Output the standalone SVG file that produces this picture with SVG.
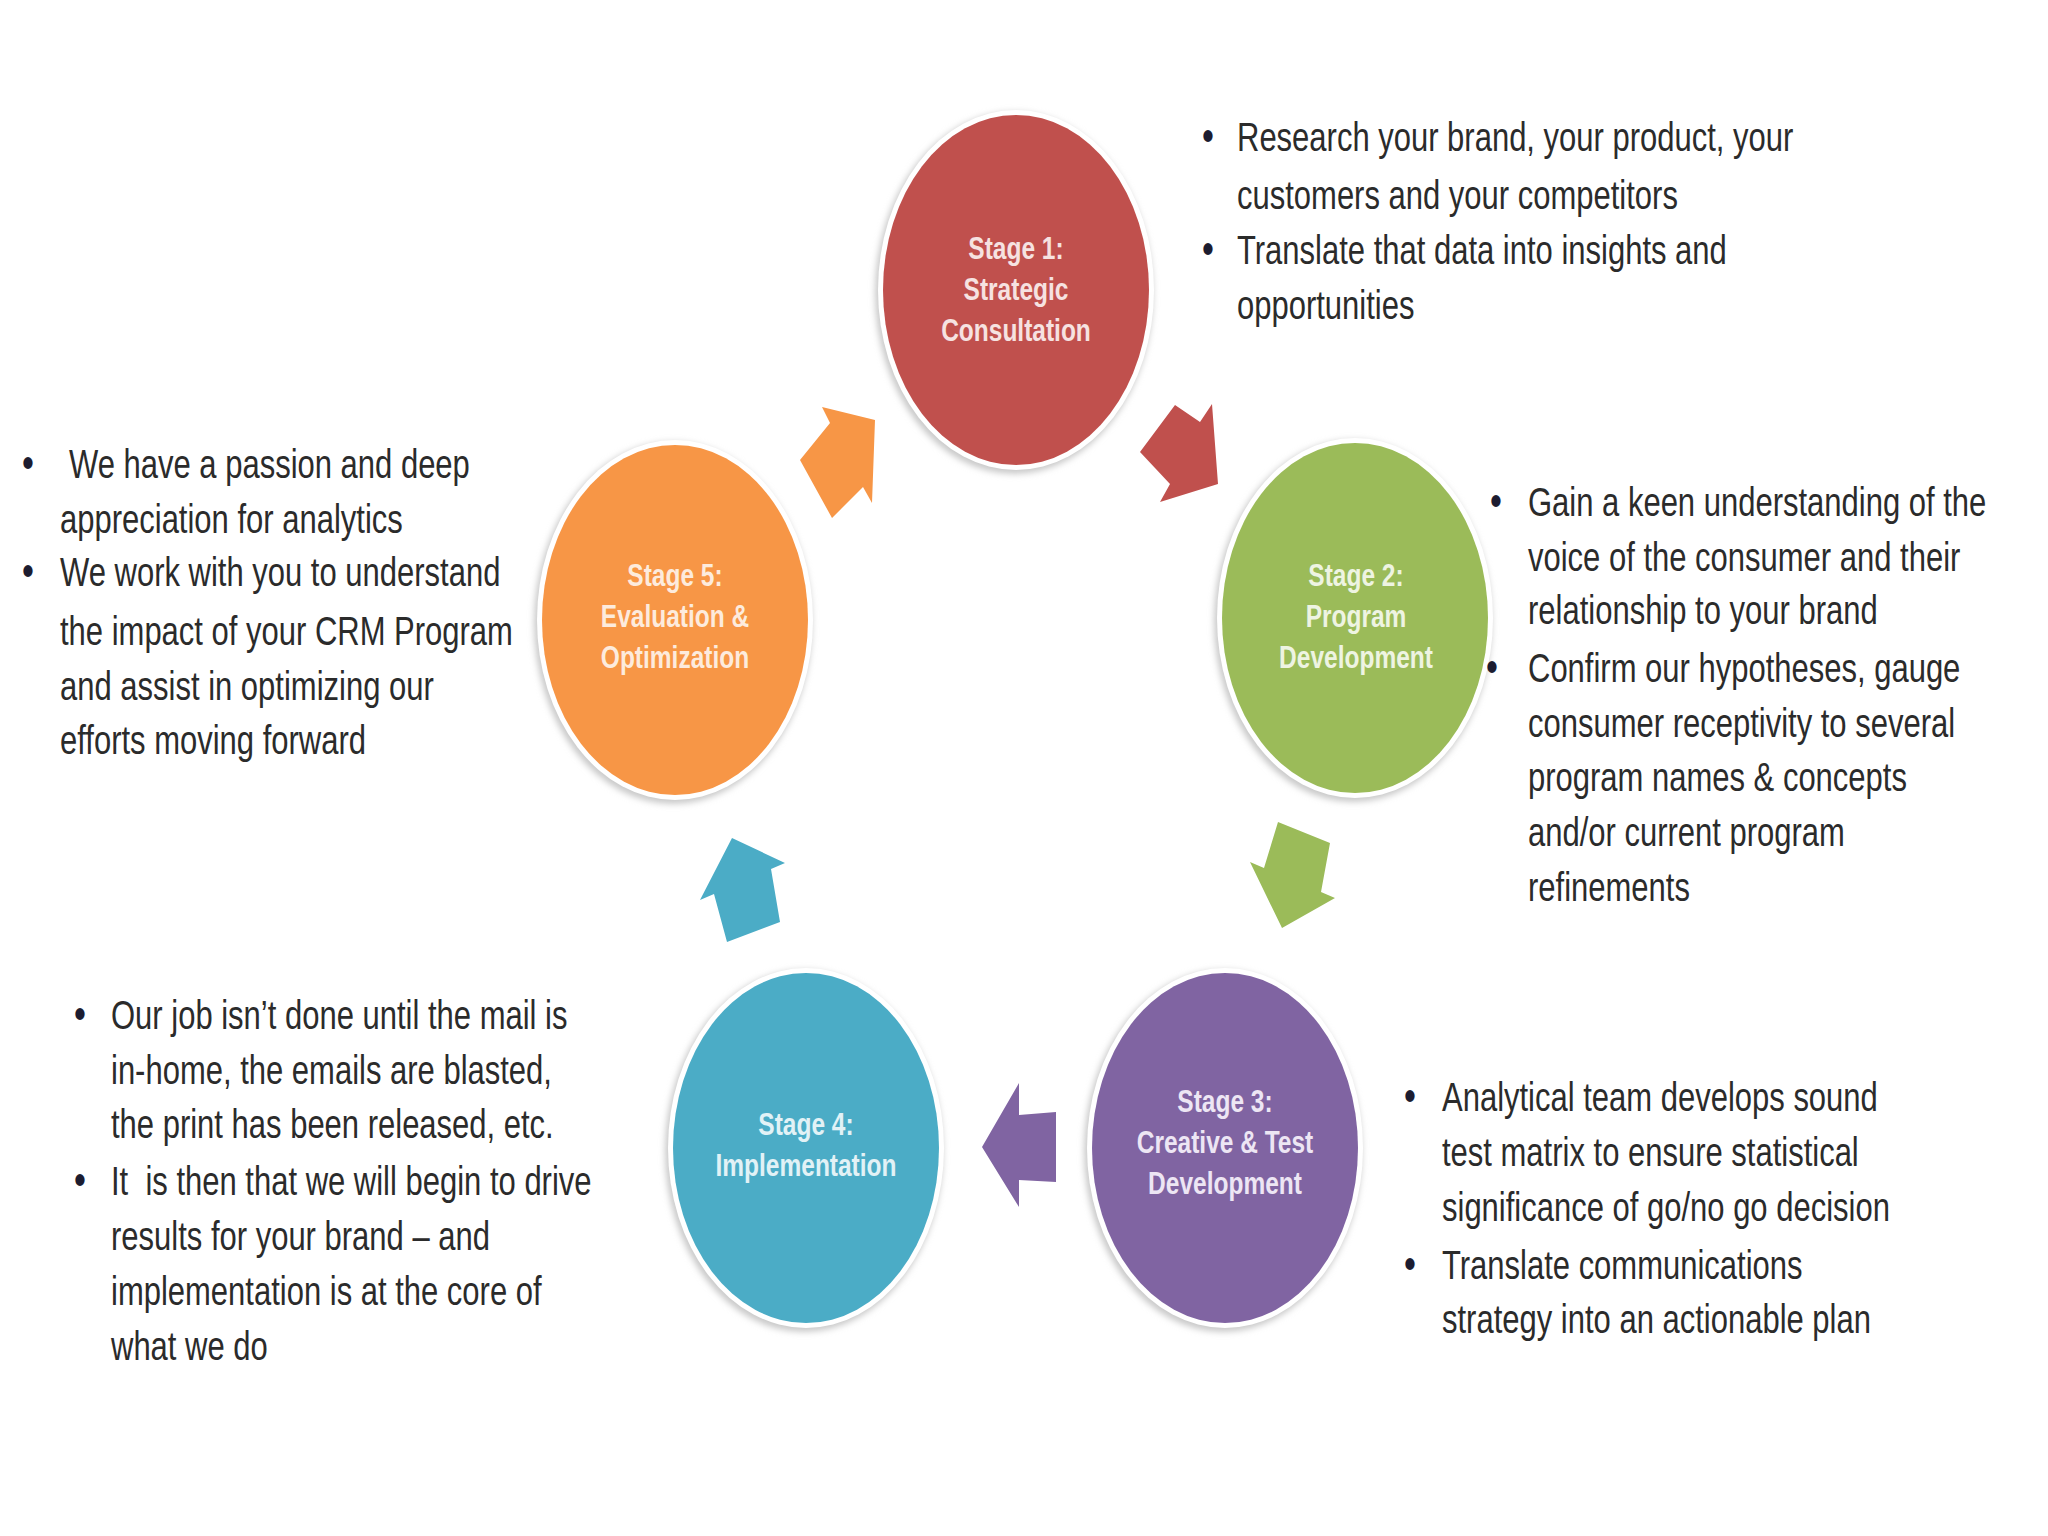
<svg xmlns="http://www.w3.org/2000/svg" width="2048" height="1536" viewBox="0 0 2048 1536">
<defs>
<style>
.body{font-family:"Liberation Sans",Arial,sans-serif;font-size:31px;fill:#2b2b2b}
.bul{font-family:"Liberation Sans",Arial,sans-serif;font-size:34px;fill:#1c1c30}
.lbl{font-family:"Liberation Sans",Arial,sans-serif;font-size:24.5px;font-weight:bold;text-anchor:middle}
.ring{fill:#ffffff}
.shadow{fill:#c9c9c9;filter:url(#blur)}
</style>
<filter id="blur" x="-20%" y="-20%" width="140%" height="140%"><feGaussianBlur stdDeviation="3"/></filter>
</defs>
<rect x="0" y="0" width="2048" height="1536" fill="#ffffff"/>

<g id="connectors">
<polygon points="1140,452 1175,405 1200,422 1212,404 1218,484 1160,502 1170,484" fill="#C0504D"/>
<polygon points="1278,822 1330,843 1321,892 1335,898 1282,928 1250,862 1264,868" fill="#9BBB59"/>
<polygon points="982,1147 1019,1083 1019,1115 1056,1112 1056,1182 1019,1180 1019,1207" fill="#8064A2"/>
<polygon points="732,838 785,863 771,869 780,922 727,942 714,894 700,900" fill="#4BACC6"/>
<polygon points="822,407 875,420 872,503 863,487 832,518 800,460 830,423" fill="#F79646"/>
</g>

<g id="stage1">
<ellipse class="shadow" cx="1014" cy="293" rx="139" ry="181"/>
<ellipse class="ring" cx="1016" cy="290" rx="138" ry="180"/>
<ellipse cx="1016" cy="290" rx="133" ry="175" fill="#C0504D"/>
<text class="lbl" fill="#F6E2E1" transform="translate(1016 259) scale(1 1.3)"><tspan x="0" y="0">Stage 1:</tspan><tspan x="0" y="31.5">Strategic</tspan><tspan x="0" y="63">Consultation</tspan></text>
</g>

<g id="stage2">
<ellipse class="shadow" cx="1353" cy="621" rx="139" ry="181"/>
<ellipse class="ring" cx="1355" cy="618" rx="138" ry="180"/>
<ellipse cx="1355" cy="618" rx="133" ry="175" fill="#9BBB59"/>
<text class="lbl" fill="#EEF4E2" transform="translate(1356 586) scale(1 1.3)"><tspan x="0" y="0">Stage 2:</tspan><tspan x="0" y="31.5">Program</tspan><tspan x="0" y="63">Development</tspan></text>
</g>

<g id="stage3">
<ellipse class="shadow" cx="1223" cy="1151" rx="139" ry="181"/>
<ellipse class="ring" cx="1225" cy="1148" rx="138" ry="180"/>
<ellipse cx="1225" cy="1148" rx="133" ry="175" fill="#8064A2"/>
<text class="lbl" fill="#EDE6F4" transform="translate(1225 1112) scale(1 1.3)"><tspan x="0" y="0">Stage 3:</tspan><tspan x="0" y="31.5">Creative &amp; Test</tspan><tspan x="0" y="63">Development</tspan></text>
</g>

<g id="stage4">
<ellipse class="shadow" cx="804" cy="1151" rx="139" ry="181"/>
<ellipse class="ring" cx="806" cy="1148" rx="138" ry="180"/>
<ellipse cx="806" cy="1148" rx="133" ry="175" fill="#4BACC6"/>
<text class="lbl" fill="#E2F2F6" transform="translate(806 1135) scale(1 1.3)"><tspan x="0" y="0">Stage 4:</tspan><tspan x="0" y="31.5">Implementation</tspan></text>
</g>

<g id="stage5">
<ellipse class="shadow" cx="673" cy="623" rx="139" ry="181"/>
<ellipse class="ring" cx="675" cy="620" rx="138" ry="180"/>
<ellipse cx="675" cy="620" rx="133" ry="175" fill="#F79646"/>
<text class="lbl" fill="#FDEBDD" transform="translate(675 586) scale(1 1.3)"><tspan x="0" y="0">Stage 5:</tspan><tspan x="0" y="31.5">Evaluation &amp;</tspan><tspan x="0" y="63">Optimization</tspan></text>
</g>

<g id="note-stage1">
<text class="bul" transform="translate(1237 151) scale(1 1.3)"><tspan x="-35" y="0">•</tspan><tspan x="-35" y="86.9">•</tspan></text>
<text class="body" transform="translate(1237 151) scale(1 1.3)"><tspan x="0" y="0">Research your brand, your product, your</tspan><tspan x="0" y="44.6">customers and your competitors</tspan><tspan x="0" y="86.9">Translate that data into insights and</tspan><tspan x="0" y="129.2">opportunities</tspan></text>
</g>

<g id="note-stage2">
<text class="bul" transform="translate(1528 516) scale(1 1.3)"><tspan x="-38" y="0">•</tspan><tspan x="-42" y="127.7">•</tspan></text>
<text class="body" transform="translate(1528 516) scale(1 1.3)"><tspan x="0" y="0">Gain a keen understanding of the</tspan><tspan x="0" y="42.3">voice of the consumer and their</tspan><tspan x="0" y="83.1">relationship to your brand</tspan><tspan x="0" y="127.7">Confirm our hypotheses, gauge</tspan><tspan x="0" y="170">consumer receptivity to several</tspan><tspan x="0" y="211.5">program names &amp; concepts</tspan><tspan x="0" y="253.8">and/or current program</tspan><tspan x="0" y="296.2">refinements</tspan></text>
</g>

<g id="note-stage3">
<text class="bul" transform="translate(1442 1111) scale(1 1.3)"><tspan x="-38" y="0">•</tspan><tspan x="-38" y="129.2">•</tspan></text>
<text class="body" transform="translate(1442 1111) scale(1 1.3)"><tspan x="0" y="0">Analytical team develops sound</tspan><tspan x="0" y="42.3">test matrix to ensure statistical</tspan><tspan x="0" y="84.6">significance of go/no go decision</tspan><tspan x="0" y="129.2">Translate communications</tspan><tspan x="0" y="170.8">strategy into an actionable plan</tspan></text>
</g>

<g id="note-stage4">
<text class="bul" transform="translate(111 1029) scale(1 1.3)"><tspan x="-37" y="0">•</tspan><tspan x="-37" y="127.7">•</tspan></text>
<text class="body" transform="translate(111 1029) scale(1 1.3)" xml:space="preserve"><tspan x="0" y="0">Our job isn’t done until the mail is</tspan><tspan x="0" y="42.3">in-home, the emails are blasted,</tspan><tspan x="0" y="83.8">the print has been released, etc.</tspan><tspan x="0" y="127.7">It  is then that we will begin to drive</tspan><tspan x="0" y="170">results for your brand – and</tspan><tspan x="0" y="212.3">implementation is at the core of</tspan><tspan x="0" y="254.6">what we do</tspan></text>
</g>

<g id="note-stage5">
<text class="bul" transform="translate(60 478) scale(1 1.3)"><tspan x="-38" y="0">•</tspan><tspan x="-38" y="83.1">•</tspan></text>
<text class="body" transform="translate(60 478) scale(1 1.3)"><tspan x="9" y="0">We have a passion and deep</tspan><tspan x="0" y="42.3">appreciation for analytics</tspan><tspan x="0" y="83.1">We work with you to understand</tspan><tspan x="0" y="128.5">the impact of your CRM Program</tspan><tspan x="0" y="170.8">and assist in optimizing our</tspan><tspan x="0" y="212.3">efforts moving forward</tspan></text>
</g>
</svg>
